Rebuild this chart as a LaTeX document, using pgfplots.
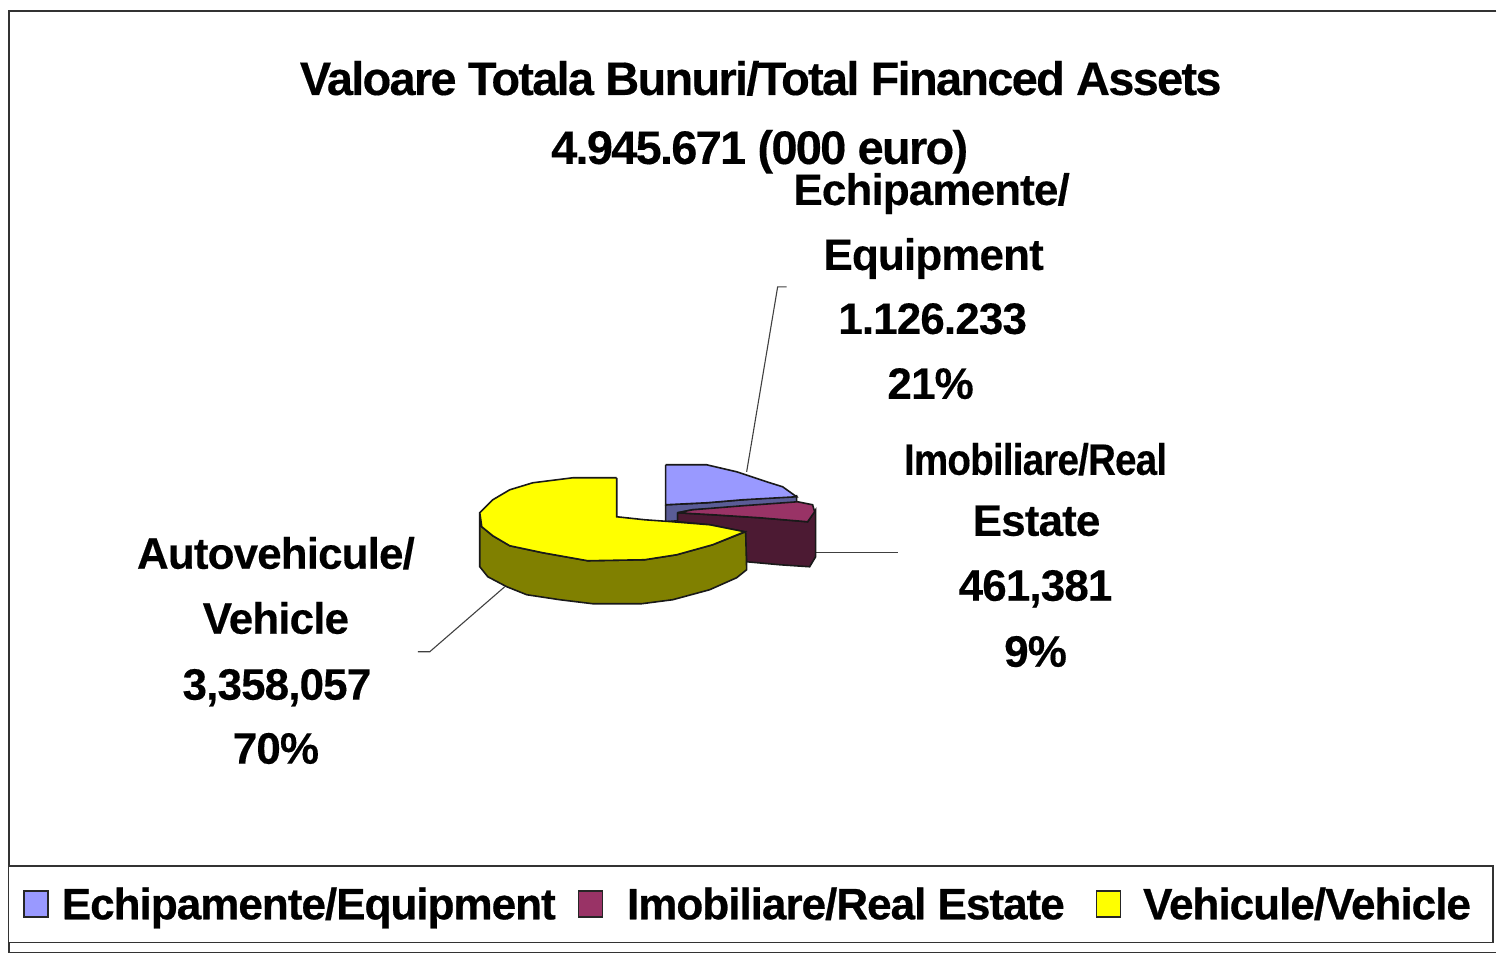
\documentclass[border=0pt]{standalone}
\usepackage{pgfplots}
\pgfplotsset{compat=1.18}
\usepackage{fontspec}
\setmainfont{Liberation Sans}
\newfontfamily\tightT[LetterSpace=-3.7,BoldFeatures={FakeBold=0.3}]{Liberation Sans}
\newfontfamily\tightL[LetterSpace=-2.0,BoldFeatures={FakeBold=0.3}]{Liberation Sans}
\newfontfamily\tightG[LetterSpace=-2.2,BoldFeatures={FakeBold=0.6}]{Liberation Sans}
\definecolor{cblue}{HTML}{9999FF}
\definecolor{cbluedk}{HTML}{5A5C96}
\definecolor{cred}{HTML}{993366}
\definecolor{creddk}{HTML}{4C1A33}
\definecolor{cyel}{HTML}{FFFF00}
\definecolor{cyeldk}{HTML}{808000}
\newcommand{\ttl}{\fontsize{47}{50}\selectfont\tightT\bfseries}
\newcommand{\lbl}{\fontsize{44}{48}\selectfont\tightL\bfseries}
\newcommand{\lab}[2]{\node[anchor=base,inner sep=0pt,text=black] at (axis cs:#1) {\lbl #2};}
\newcommand{\tit}[2]{\node[anchor=base,inner sep=0pt,text=black] at (axis cs:#1) {\ttl #2};}
\begin{document}
\begin{tikzpicture}
\begin{axis}[
  width=1497pt,height=955pt,scale only axis,
  xmin=0,xmax=1497,ymin=0,ymax=955,y dir=reverse,
  hide axis,clip=false,
  legend columns=3,
  legend style={at={(axis cs:751,904.5)},anchor=center,draw=black!80,line width=1.4pt,
     font=\fontsize{44}{48}\selectfont\tightG\bfseries,
     inner xsep=15pt,inner ysep=19.5pt,
     /tikz/every even column/.append style={column sep=20pt}},
  legend image code/.code={\draw[#1,line width=1.4pt,draw=black!85] (0pt,-13pt) rectangle (24pt,13pt);},
]
% page extent
\path (axis cs:0,0) rectangle (axis cs:1497,955);
% frame
\draw[black!80,line width=1.4pt] (axis cs:1497,11) -- (axis cs:9,11) -- (axis cs:9,953) -- (axis cs:1497,953);
% leader lines
\addplot[black!75,line width=1.1pt,forget plot] coordinates {(787,287)(778,287)(747,472)};
\addplot[black!75,line width=1.1pt,forget plot] coordinates {(898,553)(816,553)};
\addplot[black!75,line width=1.1pt,forget plot] coordinates {(418,652)(430,652)(505,587)};
% Equipment: side then top
\addplot[fill=cbluedk,draw=black!90,line width=1.6pt,forget plot] coordinates {(666,505)(707,503)(743,500)(797,496)(797,503)(743,508)(693,510)(678,513)(678,521)(666,522)(666,505)};
\addplot[fill=cblue,draw=black!90,line width=1.6pt] coordinates {(666,465)(707,465)(737,472)(767,482)(783,487)(797,497)(743,500)(707,503)(666,505)(666,465)};
% Real estate: side then top
\addplot[fill=creddk,draw=black!90,line width=1.6pt,forget plot] coordinates {(678,513)(713,515)(760,518)(808,522)(816,510)(816,557)(810,567)(780,565)(747,562)(745,532)(710,525)(678,522)(678,513)};
\addplot[fill=cred,draw=black!90,line width=1.6pt] coordinates {(678,513)(693,510)(743,506)(798,502)(813,505)(815,512)(808,522)(760,518)(713,515)(678,513)};
% Vehicle: side then top
\addplot[fill=cyeldk,draw=black!90,line width=1.6pt,forget plot] coordinates {(480,513)(480,567)(488,577)(507,587)(527,595)(560,600)(593,604)(642,604)(673,600)(710,590)(737,578)(747,570)(746,532)(713,545)(677,555)(645,560)(588,561)(543,553)(510,546)(493,536)(482,527)(480,513)};
\addplot[fill=cyel,draw=black!90,line width=1.6pt] coordinates {(617,478)(573,478)(533,483)(510,490)(493,500)(480,513)(482,527)(493,536)(510,546)(543,553)(588,561)(645,560)(677,555)(713,545)(745,532)(710,525)(673,522)(645,520)(617,517)(617,478)};
\addlegendentry{\hspace*{11pt}Echipamente/Equipment}
\addlegendentry{\hspace*{22pt}Imobiliare/Real Estate\hspace*{9pt}}
\addlegendentry{\hspace*{20pt}Vehicule/Vehicle\hspace*{5pt}}
% title
\tit{761,95}{Valoare Totala Bunuri/Total Financed Assets}
\tit{760,164}{4.945.671 (000 euro)}
% labels
\lab{932,205}{Echipamente/}
\lab{934,270}{Equipment}
\lab{933,334}{1.126.233}
\lab{931,399}{21\%}
\lab{1036,475}{\scalebox{0.875}[1]{Imobiliare/Real}}
\lab{1037,536}{Estate}
\lab{1036,601}{461,381}
\lab{1036,667}{9\%}
\lab{276,569}{Autovehicule/}
\lab{276,634}{Vehicle}
\lab{277,700}{3,358,057}
\lab{276,764}{70\%}
\end{axis}
\end{tikzpicture}
\end{document}
